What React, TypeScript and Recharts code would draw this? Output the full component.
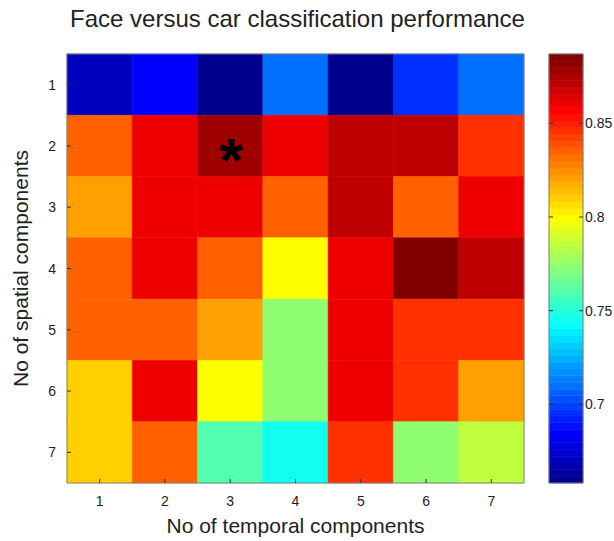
import React from 'react';
import { ComposedChart, XAxis, YAxis, ReferenceArea, Scatter, Label } from 'recharts';

// ---- data ----
const temporalComponents = [1, 2, 3, 4, 5, 6, 7];
const spatialComponents = [1, 2, 3, 4, 5, 6, 7];
// performance per spatial row (columns = temporal components 1..7)
const spatial1 = [0.671, 0.685, 0.660, 0.710, 0.660, 0.695, 0.710];
const spatial2 = [0.835, 0.859, 0.877, 0.859, 0.870, 0.870, 0.846];
const spatial3 = [0.821, 0.859, 0.859, 0.835, 0.870, 0.835, 0.859];
const spatial4 = [0.835, 0.859, 0.835, 0.799, 0.859, 0.885, 0.870];
const spatial5 = [0.835, 0.835, 0.821, 0.774, 0.859, 0.846, 0.846];
const spatial6 = [0.810, 0.859, 0.799, 0.774, 0.859, 0.846, 0.821];
const spatial7 = [0.810, 0.835, 0.760, 0.745, 0.846, 0.774, 0.785];
const rows = [spatial1, spatial2, spatial3, spatial4, spatial5, spatial6, spatial7];
const starCell = [{ temporal: 3, spatial: 2 }];
const colorbarTicks = [0.7, 0.75, 0.8, 0.85];
const CMIN = 0.658;
const CMAX = 0.887;

// ---- jet colormap (64 levels) ----
const u = (k: number) => (k < 1 || k > 47 ? 0 : k <= 16 ? k / 16 : k <= 31 ? 1 : (48 - k) / 16);
const jet = (i: number) => {
  const r = u(i - 24), g = u(i - 8), b = u(i + 8);
  return `rgb(${Math.round(r * 255)},${Math.round(g * 255)},${Math.round(b * 255)})`;
};
const colorOf = (v: number) => {
  let i = Math.floor(((v - CMIN) / (CMAX - CMIN)) * 64) + 1;
  if (i < 1) i = 1;
  if (i > 64) i = 64;
  return jet(i);
};
const levels = Array.from({ length: 64 }, (_, k) => ({
  x: 0.5,
  y: CMIN + ((CMAX - CMIN) * (k + 0.5)) / 64,
  y1: CMIN + ((CMAX - CMIN) * k) / 64,
  y2: CMIN + ((CMAX - CMIN) * (k + 1)) / 64,
  fill: jet(k + 1),
}));

const cells = rows.flatMap((row, r) =>
  row.map((v, c) => ({ temporal: temporalComponents[c], spatial: spatialComponents[r], value: v }))
);

const FONT = '"Liberation Sans", Arial, Helvetica, sans-serif';
const TICK_COLOR = '#333';
const BORDER = '#808080';
const TEXT = '#222';

const BottomTick = (p: any) => (
  <g>
    <line x1={p.x} x2={p.x} y1={p.y} y2={p.y - 4} stroke={TICK_COLOR} strokeWidth={1} />
    <text x={p.x} y={p.y + 23} textAnchor="middle" fontSize={14} fontFamily={FONT} fill={TEXT}>
      {p.payload.value}
    </text>
  </g>
);
const TopTick = (p: any) => (
  <line x1={p.x} x2={p.x} y1={p.y} y2={p.y + 4} stroke={TICK_COLOR} strokeWidth={1} />
);
const LeftTick = (p: any) => (
  <g>
    <line x1={p.x} x2={p.x + 4} y1={p.y} y2={p.y} stroke={TICK_COLOR} strokeWidth={1} />
    <text x={p.x - 11} y={p.y} dy="0.36em" textAnchor="end" fontSize={14} fontFamily={FONT} fill={TEXT}>
      {p.payload.value}
    </text>
  </g>
);
const RightTick = (p: any) => (
  <line x1={p.x} x2={p.x - 4} y1={p.y} y2={p.y} stroke={TICK_COLOR} strokeWidth={1} />
);
const ColorbarTick = (p: any) => (
  <g>
    <line x1={p.x} x2={p.x - 4} y1={p.y} y2={p.y} stroke={TICK_COLOR} strokeWidth={1} />
    <line x1={p.x - 34} x2={p.x - 30} y1={p.y} y2={p.y} stroke={TICK_COLOR} strokeWidth={1} />
    <text x={p.x + 2} y={p.y} dy="0.36em" textAnchor="start" fontSize={14} fontFamily={FONT} fill={TEXT}>
      {p.payload.value}
    </text>
  </g>
);

const XTitle = (p: any) => {
  const vb = p.viewBox;
  return (
    <text x={vb.x + vb.width / 2} y={vb.y + 49.5} textAnchor="middle" fontSize={21} fontFamily={FONT} fill={TEXT}>
      No of temporal components
    </text>
  );
};
const YTitle = (p: any) => {
  const vb = p.viewBox;
  const cx = 28;
  const cy = vb.y + vb.height / 2;
  return (
    <text x={cx} y={cy} transform={`rotate(-90, ${cx}, ${cy})`} textAnchor="middle" fontSize={21} fontFamily={FONT} fill={TEXT}>
      No of spatial components
    </text>
  );
};
const MainTitle = (p: any) => {
  const vb = p.viewBox;
  return (
    <text x={vb.x + vb.width / 2 + 2} y={vb.y - 17} textAnchor="middle" fontSize={24} fontFamily={FONT} fill={TEXT}>
      Face versus car classification performance
    </text>
  );
};

const StarShape = (p: any) => (
  <text x={p.cx + 1} y={p.cy + 35} textAnchor="middle" fontSize={62} fontWeight="bold" fontFamily={FONT} fill="#000">
    *
  </text>
);
const NoShape = () => <g />;

export default function App() {
  return (
    <div style={{ position: 'absolute', left: 0, top: 0, width: 614, height: 541, background: '#fff' }}>
      <div style={{ position: 'absolute', left: 0, top: 0 }}>
        <ComposedChart width={614} height={541} margin={{ top: 44, right: 80, bottom: 28, left: 37 }}>
          <XAxis
            xAxisId={0}
            type="number"
            dataKey="temporal"
            domain={[0.5, 7.5]}
            ticks={temporalComponents}
            interval={0}
            height={30}
            tickSize={0}
            tickMargin={0}
            axisLine={false}
            tick={<BottomTick />}
          >
            <Label content={<XTitle />} />
          </XAxis>
          <XAxis
            xAxisId="top"
            orientation="top"
            type="number"
            domain={[0.5, 7.5]}
            ticks={temporalComponents}
            interval={0}
            height={10}
            tickSize={0}
            tickMargin={0}
            axisLine={false}
            tick={<TopTick />}
          >
            <Label content={<MainTitle />} />
          </XAxis>
          <YAxis
            yAxisId={0}
            type="number"
            dataKey="spatial"
            domain={[0.5, 7.5]}
            reversed
            ticks={spatialComponents}
            interval={0}
            width={30}
            tickSize={0}
            tickMargin={0}
            axisLine={false}
            tick={<LeftTick />}
          >
            <Label content={<YTitle />} />
          </YAxis>
          <YAxis
            yAxisId="right"
            orientation="right"
            type="number"
            domain={[0.5, 7.5]}
            reversed
            ticks={spatialComponents}
            interval={0}
            width={10}
            tickSize={0}
            tickMargin={0}
            axisLine={false}
            tick={<RightTick />}
          />
          {cells.map((c) => (
            <ReferenceArea
              key={`${c.spatial}-${c.temporal}`}
              xAxisId={0}
              yAxisId={0}
              x1={c.temporal - 0.5}
              x2={c.temporal + 0.5}
              y1={c.spatial - 0.5}
              y2={c.spatial + 0.5}
              fill={colorOf(c.value)}
              fillOpacity={1}
              stroke={colorOf(c.value)}
              strokeWidth={0.6}
              ifOverflow="visible"
            />
          ))}
          <ReferenceArea
            xAxisId={0}
            yAxisId={0}
            x1={0.5}
            x2={7.5}
            y1={0.5}
            y2={7.5}
            fill="none"
            stroke={BORDER}
            strokeWidth={1}
            ifOverflow="visible"
          />
          <Scatter
            xAxisId={0}
            yAxisId={0}
            data={starCell}
            dataKey="spatial"
            shape={<StarShape />}
            isAnimationActive={false}
          />
        </ComposedChart>
      </div>
      <div style={{ position: 'absolute', left: 540, top: 0 }}>
        <ComposedChart width={74} height={541} data={levels} margin={{ top: 54, right: 0, bottom: 58, left: 9 }}>
          <XAxis xAxisId="cbx" type="number" dataKey="x" domain={[0, 1]} hide />
          <YAxis
            yAxisId="cb"
            orientation="right"
            type="number"
            dataKey="y"
            domain={[CMIN, CMAX]}
            allowDataOverflow
            ticks={colorbarTicks}
            interval={0}
            width={31}
            tickSize={0}
            tickMargin={0}
            axisLine={false}
            tick={<ColorbarTick />}
          />
          {levels.map((l, k) => (
            <ReferenceArea
              key={k}
              xAxisId="cbx"
              yAxisId="cb"
              x1={0}
              x2={1}
              y1={l.y1}
              y2={l.y2}
              fill={l.fill}
              fillOpacity={1}
              stroke={l.fill}
              strokeWidth={0.6}
              ifOverflow="visible"
            />
          ))}
          <ReferenceArea
            xAxisId="cbx"
            yAxisId="cb"
            x1={0}
            x2={1}
            y1={CMIN}
            y2={CMAX}
            fill="none"
            stroke={BORDER}
            strokeWidth={1}
            ifOverflow="visible"
          />
          <Scatter
            xAxisId="cbx"
            yAxisId="cb"
            dataKey="y"
            shape={<NoShape />}
            isAnimationActive={false}
          />
        </ComposedChart>
      </div>
    </div>
  );
}
